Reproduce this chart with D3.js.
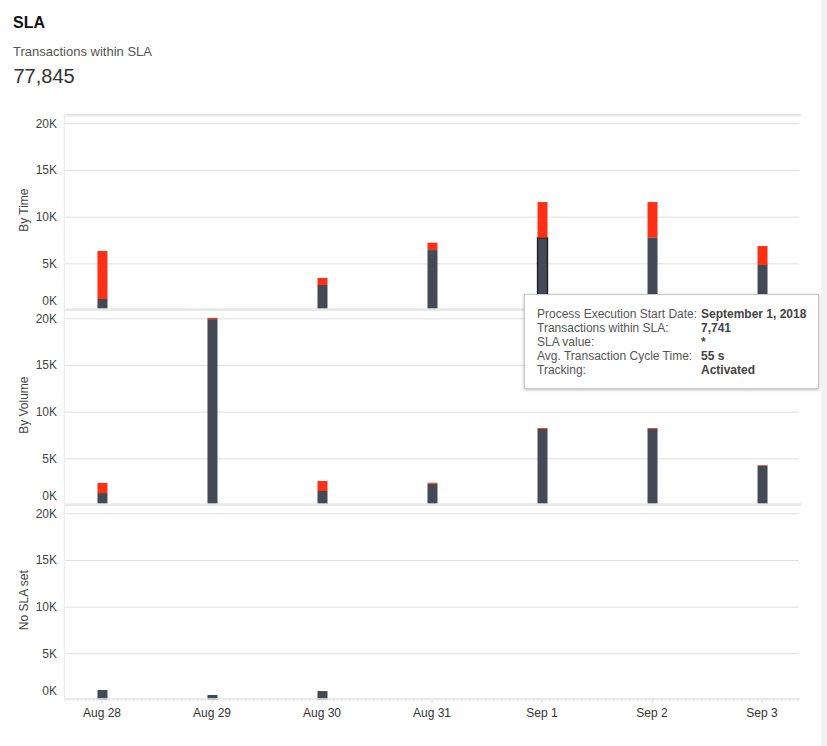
<!DOCTYPE html>
<html>
<head>
<meta charset="utf-8">
<script src="https://cdn.jsdelivr.net/npm/d3@7"></script>
<style>
  html, body { margin: 0; padding: 0; background: #fff; }
  body { width: 827px; height: 746px; overflow: hidden; position: relative;
         font-family: "Liberation Sans", Arial, Helvetica, sans-serif; }
  #tip { position: absolute; left: 524px; top: 294px; width: 293px; height: 93px;
         background: #fff; border: 1px solid #c9c9c9; box-shadow: 0 1px 3px rgba(0,0,0,0.28);
         box-sizing: content-box; }
  #tip table { position: absolute; left: 12px; top: 12px; border-collapse: collapse;
               font-size: 12px; line-height: 14px; }
  #tip td { padding: 0; vertical-align: top; }
  #tip td.l { color: #555; width: 164px; white-space: nowrap; }
  #tip td.v { color: #444; font-weight: bold; white-space: nowrap; }
</style>
</head>
<body>
<svg id="chart" width="827" height="746"></svg>
<div id="tip"></div>
<script>
// ---------- data ----------
const dates = ["Aug 28", "Aug 29", "Aug 30", "Aug 31", "Sep 1", "Sep 2", "Sep 3"];
const panelNames = ["By Time", "By Volume", "No SLA set"];
const byTimeWithin   = [1180, 0, 2680, 6420, 7741, 7780, 4820];
const byTimeExceeded = [5140, 0, 750, 790, 3819, 3780, 2030];
const byVolumeWithin   = [1280, 19910, 1500, 2280, 8140, 8140, 4210];
const byVolumeExceeded = [1080, 140, 1070, 110, 100, 100, 70];
const noSlaWithin   = [1070, 540, 960, 0, 0, 0, 0];
const noSlaExceeded = [0, 0, 0, 0, 0, 0, 0];
const yTicks = [0, 5000, 10000, 15000, 20000];
const titleText = "SLA";
const kpiLabel = "Transactions within SLA";
const kpiValue = 77845;
const tipLabels = ["Process Execution Start Date:", "Transactions within SLA:", "SLA value:", "Avg. Transaction Cycle Time:", "Tracking:"];
const tipValues = ["September 1, 2018", "7,741", "*", "55 s", "Activated"];
const highlight = { panel: 0, date: "Sep 1" };

const panels = [
  { within: byTimeWithin, exceeded: byTimeExceeded },
  { within: byVolumeWithin, exceeded: byVolumeExceeded },
  { within: noSlaWithin, exceeded: noSlaExceeded }
];

// ---------- layout ----------
const svg = d3.select("#chart");
const colors = { within: "#434a55", exceeded: "#fc3014" };
const plotLeft = 65, plotRight = 799;
const panelPitch = 195;
const baseY = 310, topY = 123.3;

// right scrollbar-like strip
svg.append("rect").attr("x", 821).attr("y", 0).attr("width", 6).attr("height", 746).attr("fill", "#f1f1f1");

// header
svg.append("text").attr("x", 13).attr("y", 27.5).text(titleText)
  .attr("font-size", 16).attr("font-weight", "bold").attr("fill", "#111");
svg.append("text").attr("x", 13).attr("y", 56.3).text(kpiLabel)
  .attr("font-size", 13).attr("fill", "#555");
svg.append("text").attr("x", 13.5).attr("y", 83.3).text(d3.format(",")(kpiValue))
  .attr("font-size", 20).attr("fill", "#333");

const x = d3.scalePoint().domain(dates).range([plotLeft, plotRight]).padding(0.336);
const barW = 10;

// top band
svg.append("rect").attr("x", plotLeft).attr("y", 114).attr("width", 736).attr("height", 2.6).attr("fill", "#e8e8e8");

panels.forEach((p, i) => {
  const off = i * panelPitch;
  const y = d3.scaleLinear().domain([0, 20000]).range([baseY + off, topY + off]);
  const g = svg.append("g");

  // grid
  g.append("g").attr("transform", `translate(${plotLeft},0)`)
    .call(d3.axisLeft(y).tickValues(yTicks.slice(1)).tickSize(-(plotRight - plotLeft)).tickFormat(""))
    .call(s => s.select(".domain").remove())
    .call(s => s.selectAll("line").attr("stroke", "#e0e0e0").attr("stroke-width", 1));

  // labels
  g.append("g").attr("transform", `translate(${plotLeft},0)`)
    .call(d3.axisLeft(y).tickValues(yTicks).tickSize(0).tickPadding(8).tickFormat(d => (d / 1000) + "K"))
    .call(s => s.select(".domain").remove())
    .call(s => s.selectAll("text").attr("fill", "#444").attr("font-size", 12)
      .attr("font-family", "'Liberation Sans', Arial, Helvetica, sans-serif")
      .attr("dy", d => d === 0 ? "-0.45em" : "0.32em"));

  // panel title
  const cy = (baseY + topY) / 2 + off - 6.5;
  g.append("text").attr("transform", `translate(28,${cy}) rotate(-90)`)
    .attr("text-anchor", "middle").attr("font-size", 12).attr("fill", "#444").text(panelNames[i]);

  // stacked bars
  const rows = dates.map((d, k) => ({ date: d, within: p.within[k], exceeded: p.exceeded[k] }));
  const stack = d3.stack().keys(["within", "exceeded"])(rows);
  stack.forEach(layer => {
    g.append("g").selectAll("rect").data(layer).join("rect")
      .attr("x", d => x(d.data.date) - barW / 2 + 0.5)
      .attr("width", barW)
      .attr("y", d => y(d[1]))
      .attr("height", d => Math.max(0, y(d[0]) - y(d[1])))
      .attr("fill", colors[layer.key])
      .attr("stroke", d => (layer.key === "within" && i === highlight.panel && d.data.date === highlight.date) ? "#1a1a1a" : "none")
      .attr("stroke-width", 1.3);
  });

  // separator band / axis line
  if (i < 2) {
    g.append("rect").attr("x", plotLeft).attr("y", 308.3 + off).attr("width", 736).attr("height", 2.8).attr("fill", "#e8e8e8");
  }
});

// left vertical line
svg.append("line").attr("x1", 64.3).attr("x2", 64.3).attr("y1", 114).attr("y2", 700)
  .attr("stroke", "#e8e8e8").attr("stroke-width", 1);

// bottom x axis
const axisY = 698.2;
svg.append("rect").attr("x", plotLeft).attr("y", axisY).attr("width", 735).attr("height", 1.6).attr("fill", "#e4e4e4");
svg.append("line").attr("x1", plotLeft).attr("x2", 800).attr("y1", 700.6).attr("y2", 700.6)
  .attr("stroke", "#e6e6e6").attr("stroke-width", 1.2).attr("stroke-dasharray", "1,3");
const xAxis = svg.append("g").attr("transform", `translate(-0.5,${axisY + 1.6})`)
  .call(d3.axisBottom(x).tickSize(4).tickPadding(5))
  .call(s => s.select(".domain").remove())
  .call(s => s.selectAll("line").attr("stroke", "#ddd"))
  .call(s => s.selectAll("text").attr("fill", "#333").attr("font-size", 12)
    .attr("font-family", "'Liberation Sans', Arial, Helvetica, sans-serif"));

// tooltip
const tbl = d3.select("#tip").append("table");
tipLabels.forEach((l, k) => {
  const tr = tbl.append("tr");
  tr.append("td").attr("class", "l").text(l);
  tr.append("td").attr("class", "v").text(tipValues[k]);
});
</script>
</body>
</html>
